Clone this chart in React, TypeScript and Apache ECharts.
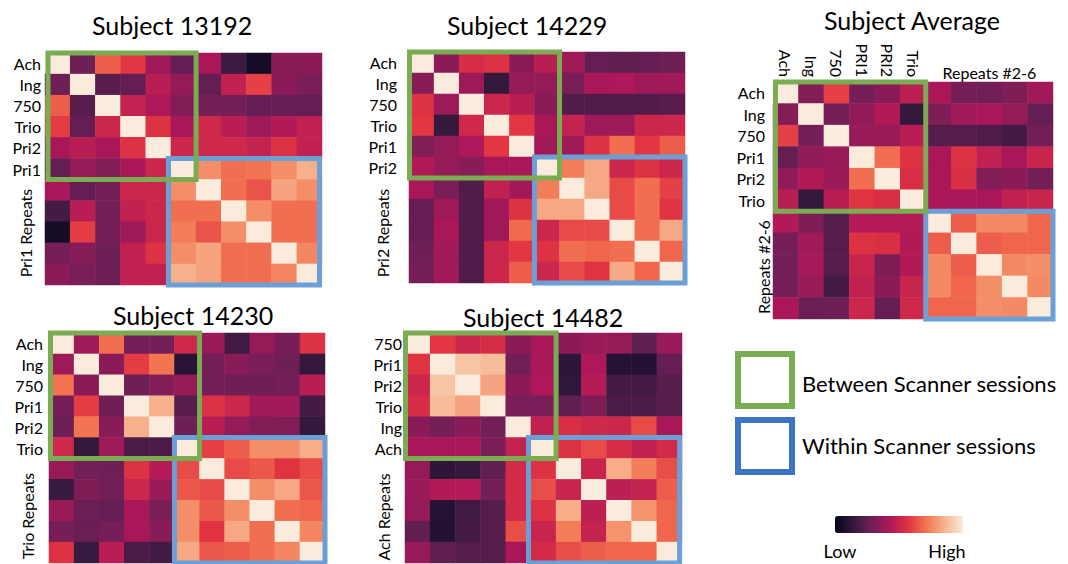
import React, { useEffect, useRef } from "react";
import * as echarts from "echarts";

// seaborn "rocket" colormap, sampled evenly
const rocket = ["#03051a", "#35193e", "#701f57", "#ad1759", "#e13342", "#f37651", "#f6b48f", "#faebdd"];

const subjectTitles = ["Subject 13192", "Subject 14229", "Subject Average", "Subject 14230", "Subject 14482"];
const rowLabels13192 = ["Ach", "Ing", "750", "Trio", "Pri2", "Pri1"];
const rowLabels14229 = ["Ach", "Ing", "750", "Trio", "Pri1", "Pri2"];
const rowLabelsAverage = ["Ach", "Ing", "750", "Pri1", "Pri2", "Trio"];
const rowLabels14230 = ["Ach", "Ing", "750", "Pri1", "Pri2", "Trio"];
const rowLabels14482 = ["750", "Pri1", "Pri2", "Trio", "Ing", "Ach"];
const repeatLabels = ["Pri1 Repeats", "Pri2 Repeats", "Repeats #2-6", "Trio Repeats", "Ach Repeats"];
const avgColumnLabels = ["Ach", "Ing", "750", "PRI1", "PRI2", "Trio"];
const avgRepeatColumnLabel = "Repeats #2-6";
const legendBetween = "Between Scanner sessions";
const legendWithin = "Within Scanner sessions";
const colorbarLow = "Low";
const colorbarHigh = "High";

const m13192 = [
  [1, .28, .66, .58, .40, .26, .42, .16, .05, .34, .35],
  [.28, 1, .23, .26, .46, .37, .26, .48, .60, .35, .31],
  [.66, .23, 1, .49, .43, .33, .30, .30, .26, .26, .26],
  [.59, .26, .51, 1, .56, .42, .52, .46, .39, .44, .48],
  [.42, .46, .42, .56, 1, .51, .52, .52, .49, .56, .48],
  [.26, .37, .33, .42, .51, 1, .77, .70, .71, .77, .85],
  [.42, .26, .30, .51, .51, .77, 1, .70, .64, .82, .77],
  [.18, .46, .30, .48, .51, .70, .70, 1, .77, .70, .70],
  [.05, .59, .30, .39, .51, .73, .64, .77, 1, .70, .70],
  [.30, .34, .28, .48, .56, .77, .82, .70, .70, 1, .75],
  [.35, .31, .28, .48, .48, .85, .82, .70, .70, .75, 1],
];

const m14229 = [
  [1, .35, .54, .56, .35, .46, .40, .26, .25, .26, .28],
  [.34, 1, .39, .14, .37, .37, .31, .42, .43, .39, .40],
  [.56, .39, 1, .51, .46, .35, .21, .21, .21, .21, .23],
  [.58, .14, .52, 1, .58, .42, .49, .39, .39, .51, .51],
  [.33, .37, .43, .58, 1, .40, .39, .56, .70, .58, .66],
  [.44, .37, .34, .42, .42, 1, .73, .83, .51, .56, .51],
  [.42, .31, .21, .48, .40, .73, 1, .83, .62, .70, .60],
  [.26, .39, .21, .40, .56, .83, .83, 1, .62, .70, .57],
  [.26, .42, .21, .40, .69, .51, .62, .62, 1, .70, .83],
  [.28, .40, .21, .51, .58, .56, .70, .68, .70, 1, .68],
  [.30, .40, .21, .51, .66, .51, .62, .57, .83, .68, 1],
];

const mAverage = [
  [1, .33, .60, .30, .35, .47, .42, .30, .29, .32, .40],
  [.33, 1, .30, .36, .44, .14, .32, .40, .42, .37, .26],
  [.60, .30, 1, .38, .38, .46, .22, .22, .21, .18, .29],
  [.26, .36, .38, 1, .70, .56, .42, .56, .48, .42, .50],
  [.36, .44, .38, .70, 1, .55, .42, .55, .33, .35, .29],
  [.46, .14, .46, .57, .55, 1, .42, .42, .42, .48, .50],
  [.44, .32, .22, .45, .45, .45, 1, .66, .76, .76, .68],
  [.30, .40, .22, .56, .55, .44, .66, 1, .66, .68, .68],
  [.29, .41, .22, .50, .32, .44, .76, .66, 1, .76, .77],
  [.30, .38, .18, .48, .35, .50, .76, .68, .77, 1, .76],
  [.42, .27, .28, .51, .26, .52, .68, .68, .77, .76, 1],
];

const m14230 = [
  [1, .39, .70, .30, .30, .52, .38, .17, .37, .30, .56],
  [.39, 1, .35, .59, .71, .11, .30, .34, .31, .28, .14],
  [.71, .35, 1, .28, .33, .37, .30, .28, .28, .30, .46],
  [.30, .59, .28, 1, .85, .23, .56, .51, .40, .40, .18],
  [.28, .71, .34, .85, 1, .28, .46, .37, .33, .33, .14],
  [.52, .14, .39, .20, .20, 1, .60, .66, .77, .77, .84],
  [.38, .29, .28, .56, .45, .62, 1, .62, .65, .57, .62],
  [.15, .32, .29, .51, .38, .65, .62, 1, .77, .83, .65],
  [.38, .27, .26, .42, .31, .77, .65, .77, 1, .70, .68],
  [.30, .27, .30, .42, .34, .77, .57, .83, .70, 1, .75],
  [.56, .15, .46, .20, .18, .83, .65, .66, .70, .75, 1],
];

const m14482 = [
  [1, .58, .51, .54, .35, .42, .35, .38, .37, .25, .38],
  [.57, 1, .90, .88, .29, .42, .12, .43, .10, .09, .26],
  [.51, .90, 1, .82, .35, .43, .13, .45, .18, .18, .23],
  [.54, .88, .82, 1, .31, .31, .25, .32, .20, .20, .22],
  [.35, .30, .35, .29, 1, .48, .55, .52, .51, .62, .42],
  [.42, .42, .42, .31, .49, 1, .56, .62, .54, .48, .53],
  [.37, .12, .14, .25, .53, .56, 1, .50, .84, .73, .63],
  [.38, .44, .45, .30, .53, .63, .50, 1, .47, .49, .66],
  [.37, .10, .17, .22, .53, .56, .84, .47, 1, .78, .68],
  [.25, .09, .18, .22, .63, .50, .73, .49, .78, 1, .68],
  [.38, .25, .22, .22, .42, .53, .63, .66, .68, .68, 1],
];

const matrices = [m13192, m14229, mAverage, m14230, m14482];
const rowLabelSets = [rowLabels13192, rowLabels14229, rowLabelsAverage, rowLabels14230, rowLabels14482];

// layout (positions only)
const layouts = [
  { left: 45, top: 53, width: 277, height: 232, margin: 4, rotX: 25, rotY: 233, titleX: 172, titleY: 25, greenInset: 3, blueStart: 5, blueDx: -2.5 },
  { left: 409, top: 52, width: 276, height: 231, margin: 12, rotX: 382, rotY: 233, titleX: 527, titleY: 25, greenInset: 0.5, blueStart: 5, blueDx: 0 },
  { left: 773, top: 82, width: 280, height: 237, margin: 8, rotX: 763, rotY: 267, titleX: 912, titleY: 20, greenInset: 2.5, blueStart: 6, blueDx: 0 },
  { left: 49, top: 333, width: 276, height: 230, margin: 6, rotX: 27, rotY: 516, titleX: 193, titleY: 315, greenInset: 1.5, blueStart: 5, blueDx: 0 },
  { left: 405, top: 333, width: 277, height: 230, margin: 3, rotX: 383, rotY: 517, titleX: 543, titleY: 317, greenInset: 0.5, blueStart: 5, blueDx: -2.4 },
];

const FONT = "Lato, 'Open Sans', sans-serif";
const GREEN = "#7bab52";
const BLUE = "#6c9fd6";
const LEGEND_GREEN = "#78ad53";
const LEGEND_BLUE = "#3d74c4";

export default function App() {
  const ref = useRef<HTMLDivElement>(null);
  useEffect(() => {
    if (!ref.current) return;
    const chart = echarts.init(ref.current, null, { renderer: "svg" });
    const n = 11;
    const idx = Array.from({ length: n }, (_, i) => String(i));

    const grids: any[] = [];
    const xAxes: any[] = [];
    const yAxes: any[] = [];
    const series: any[] = [];
    const graphics: any[] = [];

    layouts.forEach((L, k) => {
      grids.push({ left: L.left, top: L.top, width: L.width, height: L.height, containLabel: false });
      const isAvg = k === 2;
      const xLabels = idx.map((_, i) => (isAvg && i < avgColumnLabels.length ? avgColumnLabels[i] : ""));
      xAxes.push({
        type: "category",
        gridIndex: k,
        data: idx,
        position: "top",
        axisLine: { show: false },
        axisTick: { show: false },
        splitLine: { show: false },
        axisLabel: {
          show: isAvg,
          rotate: 90,
          margin: 5,
          interval: 0,
          fontSize: 16,
          fontFamily: FONT,
          color: "#000",
          formatter: (_v: string, i: number) => xLabels[i],
        },
      });
      const rl = rowLabelSets[k];
      yAxes.push({
        type: "category",
        gridIndex: k,
        data: idx,
        inverse: true,
        axisLine: { show: false },
        axisTick: { show: false },
        splitLine: { show: false },
        axisLabel: {
          margin: L.margin,
          interval: 0,
          fontSize: 16,
          fontFamily: FONT,
          color: "#000",
          formatter: (_v: string, i: number) => (i < rl.length ? rl[i] : ""),
        },
      });
      const mat = matrices[k];
      const data: any[] = [];
      mat.forEach((row, r) => row.forEach((v, c) => data.push([c, r, v])));
      series.push({
        type: "heatmap",
        xAxisIndex: k,
        yAxisIndex: k,
        data,
        itemStyle: { borderWidth: 0 },
        emphasis: { disabled: true },
        progressive: 0,
      });

      const cw = L.width / n;
      const ch = L.height / n;
      const bs = L.blueStart;
      graphics.push({
        type: "rect",
        z: 100,
        shape: { x: L.left + bs * cw + L.blueDx, y: L.top + bs * ch, width: (n - bs) * cw, height: (n - bs) * ch },
        style: { fill: "none", stroke: BLUE, lineWidth: 5 },
      });
      graphics.push({
        type: "rect",
        z: 101,
        shape: { x: L.left + L.greenInset, y: L.top, width: 6 * cw - L.greenInset, height: 6 * ch },
        style: { fill: "none", stroke: GREEN, lineWidth: 5 },
      });
      graphics.push({
        type: "text",
        x: L.titleX,
        y: L.titleY,
        style: { text: subjectTitles[k], fontSize: 25, fontFamily: FONT, fill: "#000", align: "center", verticalAlign: "middle" },
      });
      graphics.push({
        type: "text",
        x: L.rotX,
        y: L.rotY,
        rotation: Math.PI / 2,
        style: { text: repeatLabels[k], fontSize: 16, fontFamily: FONT, fill: "#000", align: "center", verticalAlign: "middle" },
      });
      if (isAvg) {
        graphics.push({
          type: "text",
          x: L.left + 8.5 * cw,
          y: L.top - 10,
          style: { text: avgRepeatColumnLabel, fontSize: 16, fontFamily: FONT, fill: "#000", align: "center", verticalAlign: "middle" },
        });
      }
    });

    // legend
    graphics.push({ type: "rect", shape: { x: 738, y: 354, width: 54, height: 52 }, style: { fill: "#fff", stroke: LEGEND_GREEN, lineWidth: 6 } });
    graphics.push({ type: "rect", shape: { x: 738, y: 420, width: 54, height: 52 }, style: { fill: "#fff", stroke: LEGEND_BLUE, lineWidth: 6 } });
    graphics.push({ type: "text", x: 802, y: 383, style: { text: legendBetween, fontSize: 22, fontFamily: FONT, fill: "#000", align: "left", verticalAlign: "middle" } });
    graphics.push({ type: "text", x: 802, y: 445, style: { text: legendWithin, fontSize: 22, fontFamily: FONT, fill: "#000", align: "left", verticalAlign: "middle" } });
    graphics.push({ type: "text", x: 840, y: 551, style: { text: colorbarLow, fontSize: 18, fontFamily: FONT, fill: "#000", align: "center", verticalAlign: "middle" } });
    graphics.push({ type: "text", x: 947, y: 551, style: { text: colorbarHigh, fontSize: 18, fontFamily: FONT, fill: "#000", align: "center", verticalAlign: "middle" } });

    chart.setOption({
      animation: false,
      backgroundColor: "#fff",
      grid: grids,
      xAxis: xAxes,
      yAxis: yAxes,
      visualMap: {
        type: "continuous",
        min: 0,
        max: 1,
        seriesIndex: [0, 1, 2, 3, 4],
        orient: "horizontal",
        left: 835,
        top: 516,
        itemWidth: 17,
        itemHeight: 128,
        padding: 0,
        calculable: false,
        hoverLink: false,
        inRange: { color: rocket },
      },
      series,
      graphic: graphics,
    });
    return () => chart.dispose();
  }, []);
  return <div ref={ref} style={{ position: "fixed", left: 0, top: 0, width: 1068, height: 564, background: "#fff" }} />;
}
